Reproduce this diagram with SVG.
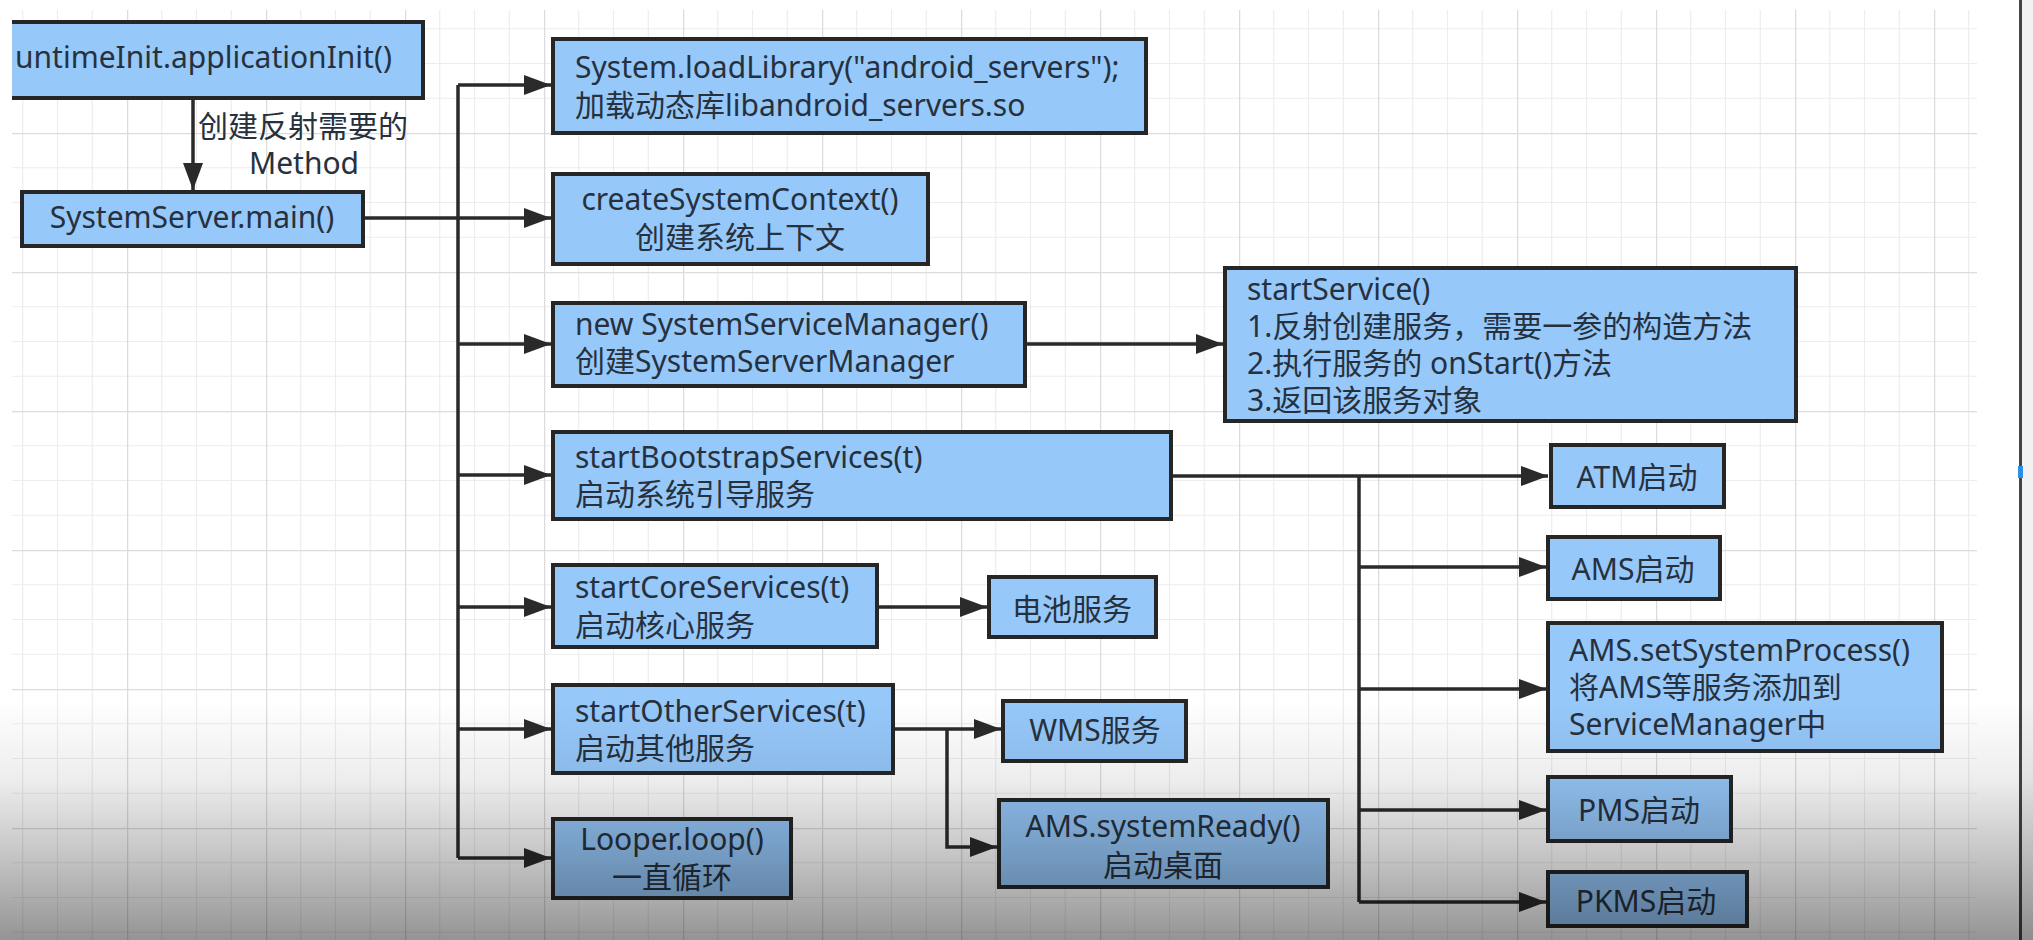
<svg xmlns="http://www.w3.org/2000/svg" width="2033" height="940" viewBox="0 0 2033 940">
  <style>
    .box { fill: #96c8fa; stroke: #262626; stroke-width: 4; }
    .t { font-family: "Noto Sans", "Noto Sans CJK SC", sans-serif; font-size: 30px; fill: #27313d; }
    .c { text-anchor: middle; }
    .edge { fill: none; stroke: #2a2a2a; stroke-width: 3.5; }
  </style>
  <defs>
    <pattern id="grid" patternUnits="userSpaceOnUse" x="-12" y="-6" width="139" height="139">
      <path d="M34.75,0 V139 M69.5,0 V139 M104.25,0 V139 M0,34.75 H139 M0,69.5 H139 M0,104.25 H139" stroke="#ededed" stroke-width="1.2" fill="none"/>
      <path d="M0.5,0 V139 M0,0.5 H139" stroke="#dcdcdc" stroke-width="1.5" fill="none"/>
    </pattern>
    <marker id="arrow" markerUnits="userSpaceOnUse" markerWidth="28" markerHeight="20" refX="27" refY="10" orient="auto">
      <path d="M0,0 L27,10 L0,20 Z" fill="#2a2a2a"/>
    </marker>
    <linearGradient id="shade" x1="0" y1="0" x2="0" y2="1">
      <stop offset="0" stop-color="#000" stop-opacity="0"/>
      <stop offset="0.33" stop-color="#000" stop-opacity="0.07"/>
      <stop offset="0.67" stop-color="#000" stop-opacity="0.24"/>
      <stop offset="1" stop-color="#000" stop-opacity="0.42"/>
    </linearGradient>
    <clipPath id="view">
      <rect x="12" y="0" width="2007" height="940"/>
    </clipPath>
  </defs>

  <rect x="0" y="0" width="2033" height="940" fill="#ffffff"/>
  <rect x="12" y="10" width="1965" height="930" fill="url(#grid)"/>

  <g clip-path="url(#view)">
    <g id="connectors">
      <path class="edge" d="M193,100 V190" marker-end="url(#arrow)"/>
      <path class="edge" d="M365,218 H551" marker-end="url(#arrow)"/>
      <path class="edge" d="M458,85 V858"/>
      <path class="edge" d="M458,85 H551" marker-end="url(#arrow)"/>
      <path class="edge" d="M458,344 H551" marker-end="url(#arrow)"/>
      <path class="edge" d="M458,475 H551" marker-end="url(#arrow)"/>
      <path class="edge" d="M458,607 H551" marker-end="url(#arrow)"/>
      <path class="edge" d="M458,729 H551" marker-end="url(#arrow)"/>
      <path class="edge" d="M458,858 H551" marker-end="url(#arrow)"/>
      <path class="edge" d="M1027,344 H1223" marker-end="url(#arrow)"/>
      <path class="edge" d="M1173,476 H1548" marker-end="url(#arrow)"/>
      <path class="edge" d="M1359,476 V902"/>
      <path class="edge" d="M1359,567 H1546" marker-end="url(#arrow)"/>
      <path class="edge" d="M1359,689 H1546" marker-end="url(#arrow)"/>
      <path class="edge" d="M1359,810 H1546" marker-end="url(#arrow)"/>
      <path class="edge" d="M1359,902 H1546" marker-end="url(#arrow)"/>
      <path class="edge" d="M879,607 H987" marker-end="url(#arrow)"/>
      <path class="edge" d="M895,729 H1001" marker-end="url(#arrow)"/>
      <path class="edge" d="M947,729 V847 H997" marker-end="url(#arrow)"/>
      <text class="t c" x="303" y="137">创建反射需要的</text>
      <text class="t c" x="304" y="174">Method</text>
    </g>

    <g id="runtimeInit">
      <rect class="box" x="-10" y="22" width="433" height="76"/>
      <text class="t" x="15" y="68">untimeInit.applicationInit()</text>
    </g>
    <g id="systemServerMain">
      <rect class="box" x="22" y="192" width="341" height="54"/>
      <text class="t c" x="192" y="228">SystemServer.main()</text>
    </g>
    <g id="loadLibrary">
      <rect class="box" x="553" y="39" width="593" height="94"/>
      <text class="t" x="575" y="78">System.loadLibrary("android_servers");</text>
      <text class="t" x="575" y="116">加载动态库libandroid_servers.so</text>
    </g>
    <g id="createSystemContext">
      <rect class="box" x="553" y="174" width="375" height="90"/>
      <text class="t c" x="740" y="210">createSystemContext()</text>
      <text class="t c" x="740" y="248">创建系统上下文</text>
    </g>
    <g id="systemServiceManager">
      <rect class="box" x="553" y="303" width="472" height="83"/>
      <text class="t" x="575" y="335">new SystemServiceManager()</text>
      <text class="t" x="575" y="372">创建SystemServerManager</text>
    </g>
    <g id="startService">
      <rect class="box" x="1225" y="268" width="571" height="153"/>
      <text class="t" x="1247" y="300">startService()</text>
      <text class="t" x="1247" y="337">1.反射创建服务，需要一参的构造方法</text>
      <text class="t" x="1247" y="374">2.执行服务的 onStart()方法</text>
      <text class="t" x="1247" y="411">3.返回该服务对象</text>
    </g>
    <g id="startBootstrapServices">
      <rect class="box" x="553" y="432" width="618" height="87"/>
      <text class="t" x="575" y="468">startBootstrapServices(t)</text>
      <text class="t" x="575" y="505">启动系统引导服务</text>
    </g>
    <g id="startCoreServices">
      <rect class="box" x="553" y="565" width="324" height="82"/>
      <text class="t" x="575" y="598">startCoreServices(t)</text>
      <text class="t" x="575" y="636">启动核心服务</text>
    </g>
    <g id="battery">
      <rect class="box" x="989" y="577" width="167" height="60"/>
      <text class="t c" x="1072" y="620">电池服务</text>
    </g>
    <g id="startOtherServices">
      <rect class="box" x="553" y="685" width="340" height="88"/>
      <text class="t" x="575" y="722">startOtherServices(t)</text>
      <text class="t" x="575" y="759">启动其他服务</text>
    </g>
    <g id="wms">
      <rect class="box" x="1003" y="701" width="183" height="60"/>
      <text class="t c" x="1095" y="741">WMS服务</text>
    </g>
    <g id="systemReady">
      <rect class="box" x="999" y="800" width="329" height="87"/>
      <text class="t c" x="1163" y="837">AMS.systemReady()</text>
      <text class="t c" x="1163" y="876">启动桌面</text>
    </g>
    <g id="looper">
      <rect class="box" x="553" y="819" width="238" height="79"/>
      <text class="t c" x="672" y="850">Looper.loop()</text>
      <text class="t c" x="672" y="888">一直循环</text>
    </g>
    <g id="atm">
      <rect class="box" x="1551" y="445" width="173" height="62"/>
      <text class="t c" x="1637" y="488">ATM启动</text>
    </g>
    <g id="amsStart">
      <rect class="box" x="1548" y="537" width="172" height="62"/>
      <text class="t c" x="1633" y="580">AMS启动</text>
    </g>
    <g id="setSystemProcess">
      <rect class="box" x="1548" y="623" width="394" height="128"/>
      <text class="t" x="1569" y="661">AMS.setSystemProcess()</text>
      <text class="t" x="1569" y="698">将AMS等服务添加到</text>
      <text class="t" x="1569" y="735">ServiceManager中</text>
    </g>
    <g id="pms">
      <rect class="box" x="1548" y="777" width="183" height="64"/>
      <text class="t c" x="1639" y="821">PMS启动</text>
    </g>
    <g id="pkms">
      <rect class="box" x="1548" y="872" width="199" height="54"/>
      <text class="t c" x="1646" y="912">PKMS启动</text>
    </g>
  </g>

  <rect x="2022" y="0" width="11" height="940" fill="#f2f2f2"/>
  <rect x="2019" y="0" width="3" height="940" fill="#444444"/>
  <rect x="2018" y="466" width="5" height="12" fill="#2b8fe8"/>
  <rect x="0" y="700" width="2033" height="240" fill="url(#shade)" pointer-events="none"/>
</svg>
